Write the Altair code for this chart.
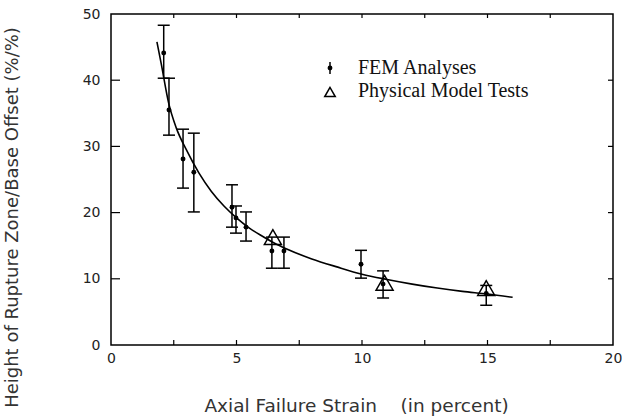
import altair as alt
import pandas as pd

# FEM analyses (mean and error range)
fem_x = [2.1, 2.31, 2.87, 3.3, 4.82, 4.98, 5.38, 6.41, 6.89, 9.96, 10.84, 14.95]
fem_y = [44.1, 35.5, 28.1, 26.1, 20.8, 19.2, 17.8, 14.2, 14.2, 12.2, 9.2, 7.8]
fem_lo = [40.3, 31.7, 23.7, 20.1, 17.8, 16.9, 15.7, 11.6, 11.6, 10.1, 7.1, 6.0]
fem_hi = [48.3, 40.3, 32.6, 32.0, 24.2, 21.0, 20.1, 16.3, 16.3, 14.3, 11.2, 9.0]

# Physical model tests
phys_x = [6.45, 10.9, 14.95]
phys_y = [16.3, 9.4, 8.6]

# Fitted curve
curve_x = [1.83, 2.0, 2.3, 2.6, 3.0, 3.5, 4.0, 4.5, 5.0, 5.5, 6.0, 6.5, 7.0,
           8.0, 9.0, 10.0, 11.0, 12.0, 13.0, 14.0, 15.0, 16.0]
curve_y = [45.8, 42.5, 36.5, 32.8, 29.5, 26.0, 23.2, 21.0, 19.2, 17.7, 16.5, 15.4, 14.5,
           13.0, 11.8, 10.7, 9.9, 9.2, 8.6, 8.1, 7.7, 7.2]

x_ticks = [2.5, 5, 7.5, 10, 12.5, 15, 17.5]
y_ticks = [10, 20, 30, 40]
x_labels = [0, 5, 10, 15, 20]
y_labels = [0, 10, 20, 30, 40, 50]
legend_labels = ["FEM Analyses", "Physical Model Tests"]

x_title = "Axial Failure Strain\u00a0\u00a0\u00a0\u00a0(in percent)"
y_title = "Height of Rupture Zone/Base Offset (%/%)"

W, H = 502, 331

fem = pd.DataFrame({"x": fem_x, "y": fem_y, "lo": fem_lo, "hi": fem_hi})
phys = pd.DataFrame({"x": phys_x, "y": phys_y})
curve = pd.DataFrame({"x": curve_x, "y": curve_y})
xt = pd.DataFrame({"t": x_ticks})
yt = pd.DataFrame({"t": y_ticks})
leg0 = pd.DataFrame({"label": [legend_labels[0]]})
leg1 = pd.DataFrame({"label": [legend_labels[1]]})

xscale = alt.Scale(domain=[0, 20], nice=False, zero=False)
yscale = alt.Scale(domain=[0, 50], nice=False, zero=False)

xaxis = alt.Axis(values=x_labels, title=x_title, domain=False, ticks=False, grid=False,
                 labelPadding=6, labelFlush=False, labelFont="DejaVu Sans", labelFontSize=14,
                 labelColor="#222", titleFont="DejaVu Sans", titleFontSize=18.5,
                 titleFontWeight="normal", titleColor="#333", titleX=245, titleY=60,
                 titleBaseline="middle", titleAlign="center")
yaxis = alt.Axis(values=y_labels, title=y_title, domain=False, ticks=False, grid=False,
                 labelPadding=11, labelFlush=False, labelFont="DejaVu Sans", labelFontSize=14,
                 labelColor="#222", titleFont="DejaVu Sans", titleFontSize=18,
                 titleFontWeight="normal", titleColor="#333", titleX=-99, titleY=203,
                 titleAngle=-90, titleBaseline="middle", titleAlign="center")

X = alt.X("x:Q", scale=xscale, axis=xaxis)
Y = alt.Y("y:Q", scale=yscale, axis=yaxis)

base_pts = alt.Chart(fem).mark_circle(size=24, color="black", opacity=1).encode(x=X, y=Y)
err = alt.Chart(fem).mark_rule(color="black", strokeWidth=1.5).encode(
    x="x:Q", y="lo:Q", y2="hi:Q")
cap_lo = alt.Chart(fem).mark_tick(orient="horizontal", size=12, thickness=1.5, color="black",
                                  opacity=1).encode(x="x:Q", y=alt.Y("lo:Q"))
cap_hi = alt.Chart(fem).mark_tick(orient="horizontal", size=12, thickness=1.5, color="black",
                                  opacity=1).encode(x="x:Q", y=alt.Y("hi:Q"))
line = alt.Chart(curve).mark_line(color="black", strokeWidth=1.6, interpolate="monotone").encode(
    x="x:Q", y="y:Q")
tri = alt.Chart(phys).mark_point(shape="triangle-up", size=290, color="black", filled=False,
                                 strokeWidth=1.5, opacity=1).encode(x="x:Q", y="y:Q")

tick_b = alt.Chart(xt).mark_rule(color="black", strokeWidth=1.2).encode(
    x="t:Q", y=alt.value(H), y2=alt.value(H - 5))
tick_t = alt.Chart(xt).mark_rule(color="black", strokeWidth=1.2).encode(
    x="t:Q", y=alt.value(0), y2=alt.value(4))
tick_l = alt.Chart(yt).mark_rule(color="black", strokeWidth=1.2).encode(
    y="t:Q", x=alt.value(0), x2=alt.value(9))
tick_r = alt.Chart(yt).mark_rule(color="black", strokeWidth=1.2).encode(
    y="t:Q", x=alt.value(W), x2=alt.value(W - 5))

text_style = dict(align="left", baseline="middle", font="Liberation Serif",
                  fontSize=20, fontWeight="normal", color="#111")
leg_text0 = alt.Chart(leg0).mark_text(**text_style).encode(
    x=alt.value(247), y=alt.value(54), text="label:N")
leg_text1 = alt.Chart(leg1).mark_text(**text_style).encode(
    x=alt.value(247), y=alt.value(77), text="label:N")
leg_bar = alt.Chart(leg0).mark_rule(color="black", strokeWidth=1.5).encode(
    x=alt.value(219), y=alt.value(48), y2=alt.value(60))
leg_dot = alt.Chart(leg0).mark_circle(size=24, color="black", opacity=1).encode(
    x=alt.value(219), y=alt.value(54))
leg_tri = alt.Chart(leg1).mark_point(shape="triangle-up", size=110, color="black",
                                     filled=False, strokeWidth=1.5, opacity=1).encode(
    x=alt.value(219), y=alt.value(78))

chart = alt.layer(
    base_pts, err, cap_lo, cap_hi, line, tri,
    tick_b, tick_t, tick_l, tick_r,
    leg_text0, leg_text1, leg_bar, leg_dot, leg_tri,
).properties(
    width=W, height=H,
    autosize=alt.AutoSizeParams(type="none"),
    padding={"left": 111, "top": 14, "right": 9, "bottom": 74},
    background="white",
).configure_view(stroke="black", strokeWidth=1.5)

chart.save("out.html", embed_options={"renderer": "svg", "actions": False})
